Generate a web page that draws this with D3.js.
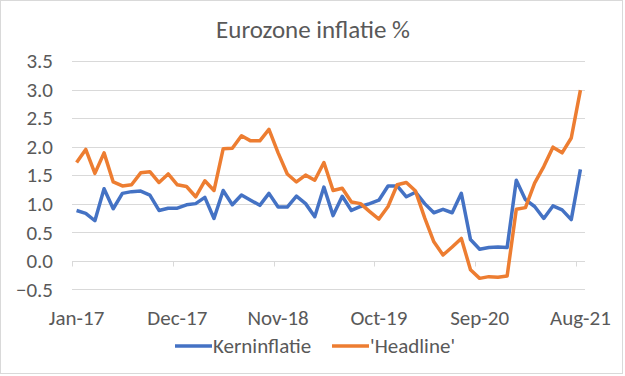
<!DOCTYPE html>
<html>
<head>
<meta charset="utf-8">
<script src="https://cdn.jsdelivr.net/npm/d3@7"></script>
<style>
  body { margin: 0; background: #fff; }
  text { font-family: Calibri, Carlito, Lato, 'Open Sans', sans-serif; fill: #595959; }
</style>
</head>
<body>
<script>
const w = 625
const h = 376

// months Jan-17 .. Aug-21
const months = d3.timeMonths(new Date(2017, 0, 1), new Date(2021, 8, 1))
  .map(d3.timeFormat('%b-%y'))

const tickLabels = ['Jan-17', 'Dec-17', 'Nov-18', 'Oct-19', 'Sep-20', 'Aug-21']
const yTicks = [-0.5, 0, 0.5, 1, 1.5, 2, 2.5, 3, 3.5]

const kern = [
  0.88, 0.83, 0.70, 1.26, 0.91, 1.18, 1.21, 1.22, 1.15, 0.88, 0.92, 0.92,
  0.98, 1.00, 1.11, 0.74, 1.23, 0.98, 1.15, 1.06, 0.97, 1.18, 0.94, 0.94,
  1.13, 1.00, 0.77, 1.29, 0.79, 1.13, 0.88, 0.95, 1.00, 1.06, 1.31, 1.31,
  1.12, 1.20, 1.00, 0.84, 0.90, 0.84, 1.18, 0.37, 0.20, 0.23, 0.24, 0.23,
  1.41, 1.07, 0.95, 0.74, 0.96, 0.89, 0.72, 1.60
]

const headline = [
  1.72, 1.95, 1.53, 1.89, 1.38, 1.31, 1.33, 1.54, 1.56, 1.37, 1.52, 1.33,
  1.30, 1.12, 1.40, 1.23, 1.96, 1.97, 2.19, 2.10, 2.10, 2.30, 1.89, 1.52,
  1.38, 1.50, 1.41, 1.72, 1.23, 1.27, 1.03, 1.00, 0.86, 0.73, 0.95, 1.33,
  1.37, 1.22, 0.75, 0.33, 0.10, 0.24, 0.39, -0.16, -0.31, -0.28, -0.29, -0.27,
  0.90, 0.93, 1.36, 1.65, 1.99, 1.89, 2.15, 2.99
]

const series = [
  { name: 'Kerninflatie', values: kern, color: '#4472c4' },
  { name: "'Headline'", values: headline, color: '#ed7d31' }
]

const svg = d3.select('body').append('svg')
  .attr('width', w)
  .attr('height', h)

// outer border
svg.append('rect')
  .attr('x', 0.5).attr('y', 0.5)
  .attr('width', w - 3).attr('height', h - 3)
  .attr('fill', '#fff')
  .attr('stroke', '#d9d9d9')

const x = d3.scaleBand()
  .domain(months)
  .range([72, 585])

const y = d3.scaleLinear()
  .domain([-0.5, 3.5])
  .range([289.2, 61])

// gridlines
svg.append('g')
  .selectAll('line')
  .data(yTicks)
  .enter().append('line')
  .attr('x1', 72)
  .attr('x2', 585)
  .attr('y1', d => Math.round(y(d)) + 0.5)
  .attr('y2', d => Math.round(y(d)) + 0.5)
  .attr('stroke', '#d9d9d9')
  .attr('stroke-width', 1)

// y axis labels
svg.append('g')
  .selectAll('text')
  .data(yTicks)
  .enter().append('text')
  .attr('x', 53)
  .attr('y', d => y(d))
  .attr('dy', '0.35em')
  .attr('text-anchor', 'end')
  .style('font-size', '21px')
  .text(d => d3.format('.1f')(d))

// category axis at zero, ticks at band edges
const zeroY = Math.round(y(0)) + 0.5
const tickG = svg.append('g')
tickG.selectAll('line')
  .data(tickLabels)
  .enter().append('line')
  .attr('x1', d => Math.round(x(d)) + 0.5)
  .attr('x2', d => Math.round(x(d)) + 0.5)
  .attr('y1', zeroY)
  .attr('y2', zeroY + 5)
  .attr('stroke', '#d9d9d9')

tickG.selectAll('text')
  .data(tickLabels)
  .enter().append('text')
  .attr('x', d => x(d) + x.bandwidth() / 2)
  .attr('y', 325)
  .attr('text-anchor', 'middle')
  .style('font-size', '21px')
  .text(d => d)

// lines
const lineFn = d3.line()
  .x((d, i) => x(months[i]) + x.bandwidth() / 2)
  .y(d => y(d))

svg.append('g')
  .selectAll('path')
  .data(series)
  .enter().append('path')
  .attr('d', d => lineFn(d.values))
  .attr('fill', 'none')
  .attr('stroke', d => d.color)
  .attr('stroke-width', 3.5)
  .attr('stroke-linejoin', 'round')

// title
svg.append('text')
  .attr('x', 313)
  .attr('y', 38)
  .attr('text-anchor', 'middle')
  .style('font-size', '25px')
  .text('Eurozone inflatie %')

// legend
const legendX = [175, 332]
const lg = svg.append('g')
  .selectAll('g')
  .data(series)
  .enter().append('g')
  .attr('transform', (d, i) => `translate(${legendX[i]},346)`)

lg.append('line')
  .attr('x1', 0).attr('x2', 37)
  .attr('stroke', d => d.color)
  .attr('stroke-width', 3.5)

lg.append('text')
  .attr('x', 38)
  .attr('dy', '0.35em')
  .style('font-size', '21px')
  .text(d => d.name)
</script>
</body>
</html>
